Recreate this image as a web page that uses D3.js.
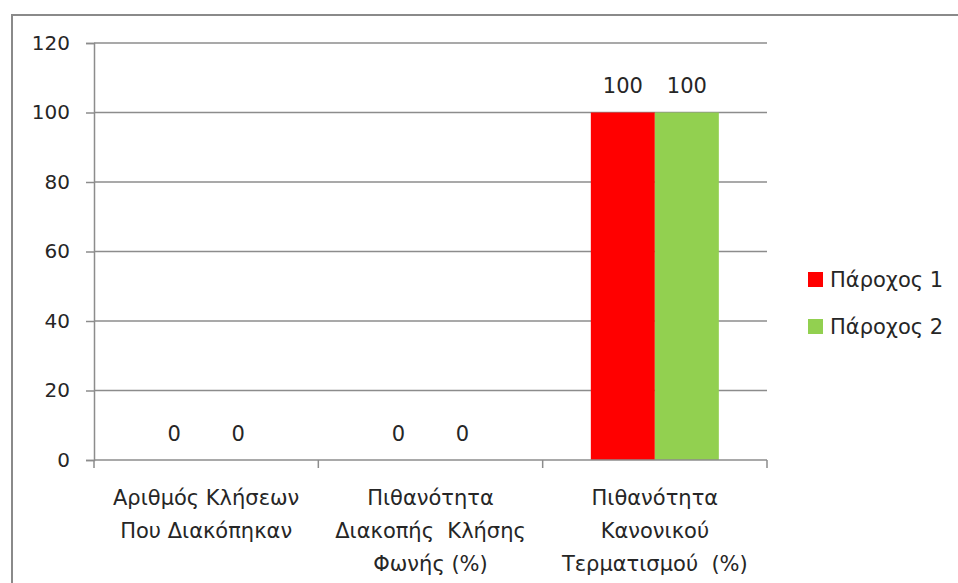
<!DOCTYPE html>
<html>
<head>
<meta charset="utf-8">
<script src="https://cdn.jsdelivr.net/npm/d3@7"></script>
<style>
  html, body { margin: 0; padding: 0; background: #fff; }
  svg { display: block; font-family: "DejaVu Sans", Verdana, sans-serif; }
</style>
</head>
<body>
<svg id="chart" width="958" height="583"></svg>
<script>
// Categories (multi-line axis labels) and series values
const categories = [
  ["Αριθμός Κλήσεων", "Που Διακόπηκαν"],
  ["Πιθανότητα", "Διακοπής  Κλήσης", "Φωνής (%)"],
  ["Πιθανότητα", "Κανονικού", "Τερματισμού  (%)"]
];
const seriesNames = ["Πάροχος 1", "Πάροχος 2"];
const provider1 = [0, 0, 100];
const provider2 = [0, 0, 100];
const seriesColors = ["#ff0000", "#92d050"];
const yTicks = [0, 20, 40, 60, 80, 100, 120];

const svg = d3.select("#chart");
const W = 958, H = 583;
const plot = { left: 94, right: 767, top: 43, bottom: 460 };
const textColor = "#262626";
const lineColor = "#8c8c8c";
const fontSize = 21;

// Outer chart frame
svg.append("rect")
  .attr("x", 12).attr("y", 15)
  .attr("width", W).attr("height", H)
  .attr("fill", "none").attr("stroke", "#8a8a8a").attr("stroke-width", 2);

const catIdx = categories.map((d, i) => i);
const x = d3.scaleBand().domain(catIdx).range([plot.left, plot.right]).paddingInner(0).paddingOuter(0);
const groupWidth = 128;
const xSub = d3.scaleBand().domain([0, 1]).range([0, groupWidth]);
const y = d3.scaleLinear().domain([0, 120]).range([plot.bottom, plot.top]);

// Horizontal gridlines
svg.append("g").selectAll("line").data(yTicks.filter(t => t > 0)).join("line")
  .attr("x1", plot.left).attr("x2", plot.right)
  .attr("y1", d => y(d)).attr("y2", d => y(d))
  .attr("stroke", lineColor).attr("stroke-width", 1.5);

// Y axis
const yAxis = svg.append("g")
  .attr("transform", `translate(${plot.left},0)`)
  .call(d3.axisLeft(y).tickValues(yTicks).tickSize(8).tickPadding(16));
yAxis.select(".domain").attr("stroke", lineColor).attr("stroke-width", 1.5);
yAxis.selectAll(".tick line").attr("stroke", lineColor).attr("stroke-width", 1.5);
yAxis.selectAll(".tick text")
  .attr("fill", textColor).attr("font-size", 20)
  .attr("font-family", "DejaVu Sans, Verdana, sans-serif");

// Bars
const series = [provider1, provider2];
const barG = svg.append("g");
series.forEach((vals, s) => {
  barG.selectAll(null).data(vals).join("rect")
    .attr("x", (d, i) => x(i) + (x.bandwidth() - groupWidth) / 2 + xSub(s))
    .attr("width", xSub.bandwidth())
    .attr("y", d => y(d))
    .attr("height", d => y(0) - y(d))
    .attr("fill", seriesColors[s]);
  // Value labels
  barG.selectAll(null).data(vals).join("text")
    .attr("x", (d, i) => x(i) + (x.bandwidth() - groupWidth) / 2 + xSub(s) + xSub.bandwidth() / 2)
    .attr("y", d => y(d) - 19.5)
    .attr("text-anchor", "middle")
    .attr("font-size", fontSize).attr("fill", textColor)
    .text(d => d);
});

// X axis baseline and category ticks
const xAxisG = svg.append("g");
xAxisG.append("line")
  .attr("x1", plot.left).attr("x2", plot.right)
  .attr("y1", y(0)).attr("y2", y(0))
  .attr("stroke", lineColor).attr("stroke-width", 1.5);
const boundaries = catIdx.map(i => x(i)).concat([x(catIdx.length - 1) + x.bandwidth()]);
xAxisG.selectAll("line.tick").data(boundaries).join("line")
  .attr("class", "tick")
  .attr("x1", d => d).attr("x2", d => d)
  .attr("y1", y(0)).attr("y2", y(0) + 8)
  .attr("stroke", lineColor).attr("stroke-width", 1.5);

// Category labels
categories.forEach((lines, i) => {
  const t = xAxisG.append("text")
    .attr("text-anchor", "middle")
    .attr("font-size", fontSize).attr("fill", textColor)
    .attr("xml:space", "preserve")
    .style("white-space", "pre");
  lines.forEach((ln, k) => {
    t.append("tspan")
      .attr("x", x(i) + x.bandwidth() / 2)
      .attr("y", 505 + k * 33)
      .text(ln);
  });
});

// Legend
const legend = svg.append("g");
seriesNames.forEach((name, s) => {
  const ly = 279 + s * 47;
  legend.append("rect")
    .attr("x", 808).attr("y", ly - 7)
    .attr("width", 15).attr("height", 15)
    .attr("fill", seriesColors[s]);
  legend.append("text")
    .attr("x", 830).attr("y", ly + 7.5)
    .attr("font-size", fontSize).attr("fill", textColor)
    .text(name);
});
</script>
</body>
</html>
